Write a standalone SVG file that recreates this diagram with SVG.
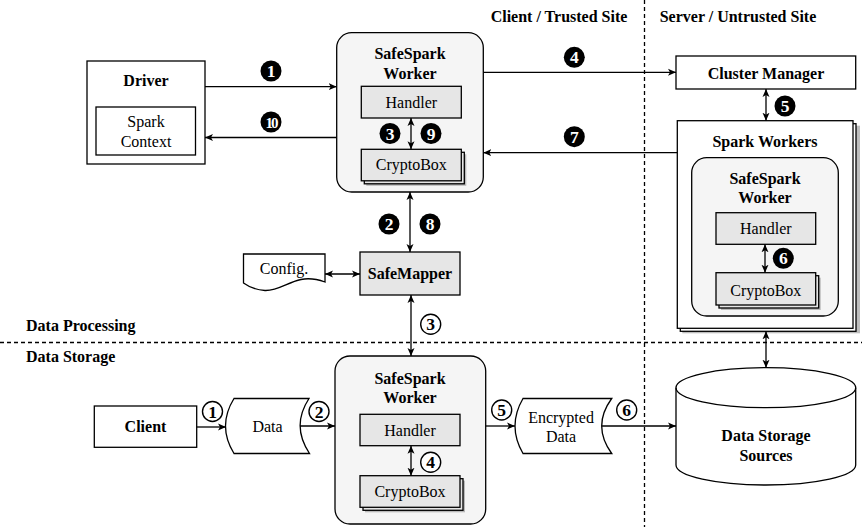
<svg xmlns="http://www.w3.org/2000/svg" width="862" height="527" viewBox="0 0 862 527">
<style>
text{font-family:"Liberation Serif","Times New Roman",serif;font-size:16px;fill:#000}
.b{font-weight:bold}
.m{text-anchor:middle}
.box{fill:#fff;stroke:#000;stroke-width:1.3}
.gray{fill:#e6e6e6;stroke:#000;stroke-width:1.3}
.wk{fill:#f5f5f5;stroke:#000;stroke-width:1.3}
.sh{fill:#888;opacity:0.55}
.ln{fill:none;stroke:#000;stroke-width:1.3}
.dash{fill:none;stroke:#000;stroke-width:1.3;stroke-dasharray:4 3}
.bf{fill:#000}
.bo{fill:#fff;stroke:#000;stroke-width:1.4}
.bt{font-weight:bold;font-size:17.5px;text-anchor:middle}
.bw{fill:#fff}
</style>
<defs>
<marker id="ah" markerUnits="userSpaceOnUse" markerWidth="9" markerHeight="8" refX="8" refY="4" orient="auto-start-reverse" viewBox="0 0 9 8">
<path d="M0,0.5 L8,4 L0,7.5 L2,4 Z" fill="#000"/>
</marker>
</defs>

<g id="dividers">
<line class="dash" x1="644.5" y1="0" x2="644.5" y2="527"/>
<line class="dash" x1="0" y1="342.5" x2="862" y2="342.5"/>
</g>

<g id="labels">
<text class="b m" x="559" y="22">Client / Trusted Site</text>
<text class="b m" x="738" y="22">Server / Untrusted Site</text>
<text class="b" x="26" y="331">Data Processing</text>
<text class="b" x="26" y="362">Data Storage</text>
</g>

<g id="driver">
<rect class="box" x="87" y="61" width="118" height="103"/>
<text class="b m" x="146" y="86">Driver</text>
<rect class="box" x="96" y="107" width="99.5" height="48"/>
<text class="m" x="146" y="127">Spark</text>
<text class="m" x="146" y="147">Context</text>
</g>

<g id="worker-top">
<rect class="wk" x="336.7" y="32.7" width="146.6" height="159.3" rx="15"/>
<text class="b m" x="410" y="59">SafeSpark</text>
<text class="b m" x="410" y="78.5">Worker</text>
<rect class="gray" x="361.3" y="86.3" width="100" height="31.7"/>
<text class="m" x="411.3" y="108">Handler</text>
<rect class="sh" x="366.3" y="154.3" width="100" height="31.5"/>
<rect class="gray" x="364.3" y="152.3" width="100" height="31.5"/>
<rect class="gray" x="361.3" y="149.3" width="100" height="31.5"/>
<text class="m" x="411.3" y="170">CryptoBox</text>
</g>

<g id="cluster-manager">
<rect class="box" x="676" y="56" width="179.7" height="33"/>
<text class="b m" x="766" y="79">Cluster Manager</text>
</g>

<g id="spark-workers">
<rect class="sh" x="682.3" y="125.7" width="177.7" height="207.6"/>
<rect class="box" x="680.3" y="123.7" width="175.7" height="207.6"/>
<rect class="box" x="677.3" y="120.7" width="175.7" height="207.6"/>
<text class="b m" x="765" y="147.3">Spark Workers</text>
<rect class="wk" x="691.7" y="157.7" width="146.6" height="158.3" rx="15"/>
<text class="b m" x="765" y="184">SafeSpark</text>
<text class="b m" x="765" y="203.3">Worker</text>
<rect class="gray" x="716" y="212.7" width="99.7" height="31.6"/>
<text class="m" x="765.8" y="234">Handler</text>
<rect class="sh" x="721" y="277.7" width="99.7" height="32.3"/>
<rect class="gray" x="719" y="275.7" width="99.7" height="32.3"/>
<rect class="gray" x="716" y="272.7" width="99.7" height="32.3"/>
<text class="m" x="765.8" y="295.6">CryptoBox</text>
</g>

<g id="config">
<path class="box" d="M243.5,254 L325,254 L325,282 C318,279.5 308,278 301,279.5 C288,282 278,291 265,290.5 C256,290 249,287 243.5,283 Z"/>
<text class="m" x="284" y="274">Config.</text>
</g>

<g id="safemapper">
<rect class="gray" x="360" y="252" width="100" height="43"/>
<text class="b m" x="410" y="279">SafeMapper</text>
</g>

<g id="worker-bottom">
<rect class="wk" x="335" y="356" width="150.7" height="168" rx="15"/>
<text class="b m" x="410" y="384">SafeSpark</text>
<text class="b m" x="410" y="403">Worker</text>
<rect class="gray" x="360" y="414.3" width="100" height="31.4"/>
<text class="m" x="410" y="435.6">Handler</text>
<rect class="sh" x="365" y="480.7" width="100" height="31.6"/>
<rect class="gray" x="363" y="478.7" width="100" height="31.6"/>
<rect class="gray" x="360" y="475.7" width="100" height="31.6"/>
<text class="m" x="410" y="497.3">CryptoBox</text>
</g>

<g id="client">
<rect class="box" x="94.3" y="406" width="102.4" height="41.3"/>
<text class="b m" x="145.5" y="432.3">Client</text>
</g>

<g id="data">
<path class="box" d="M234,398.5 L309,398.5 Q291,426 309.5,453.5 L234,453.5 Q217,426 234,398.5 Z"/>
<text class="m" x="267.5" y="432.3">Data</text>
</g>

<g id="encrypted-data">
<path class="box" d="M523,398.5 L611.7,398.5 Q591.7,426 611.7,453.5 L523,453.5 Q507,426 523,398.5 Z"/>
<text class="m" x="561" y="423.3">Encrypted</text>
<text class="m" x="561" y="442.3">Data</text>
</g>

<g id="data-storage">
<path class="box" d="M676,387.7 A89.85,20 0 0 1 855.7,387.7 L855.7,465 A89.85,20 0 0 1 676,465 Z"/>
<path class="ln" d="M676,387.7 A89.85,20 0 0 0 855.7,387.7"/>
<text class="b m" x="766" y="440.6">Data Storage</text>
<text class="b m" x="766" y="460.6">Sources</text>
</g>

<g id="connectors">
<line class="ln" x1="205" y1="86.7" x2="336.7" y2="86.7" marker-end="url(#ah)"/>
<line class="ln" x1="336.7" y1="137.5" x2="205" y2="137.5" marker-end="url(#ah)"/>
<line class="ln" x1="483.3" y1="72.3" x2="676" y2="72.3" marker-end="url(#ah)"/>
<line class="ln" x1="677.3" y1="152.7" x2="483.3" y2="152.7" marker-end="url(#ah)"/>
<line class="ln" x1="766" y1="89" x2="766" y2="120.7" marker-start="url(#ah)" marker-end="url(#ah)"/>
<line class="ln" x1="411" y1="118" x2="411" y2="149.3" marker-start="url(#ah)" marker-end="url(#ah)"/>
<line class="ln" x1="410" y1="192" x2="410" y2="252" marker-start="url(#ah)" marker-end="url(#ah)"/>
<line class="ln" x1="325" y1="274" x2="360" y2="274" marker-start="url(#ah)" marker-end="url(#ah)"/>
<line class="ln" x1="411" y1="295" x2="411" y2="356" marker-start="url(#ah)" marker-end="url(#ah)"/>
<line class="ln" x1="411" y1="445.7" x2="411" y2="475.7" marker-start="url(#ah)" marker-end="url(#ah)"/>
<line class="ln" x1="765" y1="244.3" x2="765" y2="272.7" marker-start="url(#ah)" marker-end="url(#ah)"/>
<line class="ln" x1="766" y1="331.3" x2="766" y2="367.7" marker-start="url(#ah)" marker-end="url(#ah)"/>
<line class="ln" x1="196.7" y1="427" x2="226" y2="427" marker-end="url(#ah)"/>
<line class="ln" x1="300" y1="426" x2="335" y2="426" marker-end="url(#ah)"/>
<line class="ln" x1="485.7" y1="426" x2="515" y2="426" marker-end="url(#ah)"/>
<line class="ln" x1="602" y1="426" x2="676" y2="426" marker-end="url(#ah)"/>
</g>

<g id="badges">
<circle class="bf" cx="271" cy="71" r="10.5"/><text class="bt bw" x="271" y="77">1</text>
<circle class="bf" cx="271" cy="122" r="10.5"/><text class="bt bw" x="271" y="128" style="letter-spacing:-2px;font-size:15px">10</text>
<circle class="bf" cx="390" cy="133.5" r="10.5"/><text class="bt bw" x="390" y="139.5">3</text>
<circle class="bf" cx="431" cy="133.5" r="10.5"/><text class="bt bw" x="431" y="139.5">9</text>
<circle class="bf" cx="389" cy="224" r="10.5"/><text class="bt bw" x="389" y="230">2</text>
<circle class="bf" cx="430" cy="224" r="10.5"/><text class="bt bw" x="430" y="230">8</text>
<circle class="bf" cx="574.3" cy="57.3" r="10.5"/><text class="bt bw" x="574.3" y="63.3">4</text>
<circle class="bf" cx="785" cy="106" r="10.5"/><text class="bt bw" x="785" y="112">5</text>
<circle class="bf" cx="574.3" cy="136.7" r="10.5"/><text class="bt bw" x="574.3" y="142.7">7</text>
<circle class="bf" cx="783.3" cy="258.3" r="10.5"/><text class="bt bw" x="783.3" y="264.3">6</text>
<circle class="bo" cx="430.7" cy="324.3" r="10"/><text class="bt" x="430.7" y="330.3">3</text>
<circle class="bo" cx="430.7" cy="462.3" r="10"/><text class="bt" x="430.7" y="468.3">4</text>
<circle class="bo" cx="212.5" cy="411.5" r="10"/><text class="bt" x="212.5" y="417.5">1</text>
<circle class="bo" cx="319" cy="411.5" r="10"/><text class="bt" x="319" y="417.5">2</text>
<circle class="bo" cx="501.7" cy="410" r="10"/><text class="bt" x="501.7" y="416">5</text>
<circle class="bo" cx="626.7" cy="410" r="10"/><text class="bt" x="626.7" y="416">6</text>
</g>
</svg>
